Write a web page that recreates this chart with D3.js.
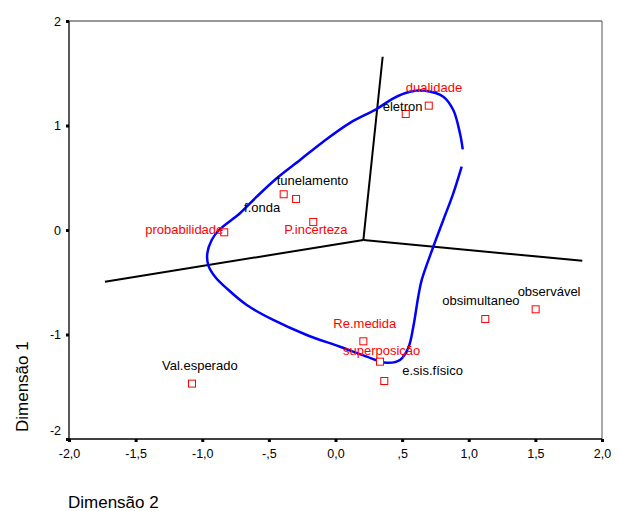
<!DOCTYPE html>
<html><head><meta charset="utf-8">
<script src="https://cdn.jsdelivr.net/npm/d3@7"></script>
<style>
body{margin:0;background:#fff;}
svg{display:block;font-family:"Liberation Sans",Arial,sans-serif;}
</style></head>
<body><svg id="c" width="621" height="511"></svg>
<script>
// ---- data ----
const labels = ["dualidade","eletron","tunelamento","f.onda","P.incerteza","probabilidade","Re.medida","superposição","e.sis.físico","obsimultaneo","observável","Val.esperado"];
const dim2 = [0.70, 0.527, -0.389, -0.296, -0.167, -0.835, 0.209, 0.334, 0.366, 1.124, 1.502, -1.077];
const dim1 = [1.19, 1.11, 0.342, 0.297, 0.077, -0.022, -1.065, -1.26, -1.445, -0.852, -0.759, -1.47];
const labelIsRed = [true,false,false,false,true,true,true,true,false,false,false,false];

// black axis lines (from a common centre)
const hubX = [0.209, 0.354, 0.209, -1.73, 0.209, 1.852];
const hubY = [-0.096, 1.658, -0.096, -0.495, -0.096, -0.294];

// blue curve
const curveX = [0.955,0.934,0.884,0.809,0.672,0.559,0.434,0.309,0.109,-0.092,-0.266,-0.441,-0.591,-0.717,-0.874,-0.929,-0.962,-0.955,-0.904,-0.817,-0.666,-0.467,-0.216,0.034,0.234,0.384,0.484,0.546,0.584,0.621,0.647,0.734,0.809,0.884,0.947];
const curveY = [0.772,0.925,1.148,1.276,1.333,1.323,1.260,1.158,1.025,0.845,0.670,0.495,0.319,0.160,0.0,-0.096,-0.223,-0.335,-0.447,-0.558,-0.718,-0.861,-1.005,-1.117,-1.212,-1.270,-1.244,-1.129,-0.925,-0.638,-0.478,-0.160,0.096,0.351,0.606];

const xTicks = [-2,-1.5,-1,-0.5,0,0.5,1,1.5,2];
const xTickLabels = ["-2,0","-1,5","-1,0","-,5","0,0",",5","1,0","1,5","2,0"];
const yTicks = [-2,-1,0,1,2];
const yTickLabels = ["-2","-1","0","1","2"];
const xTitle = "Dimensão 2";
const yTitle = "Dimensão 1";

// ---- layout (label offsets in px, not data) ----
const labelDx = [-23,-23,-7,-52,-29,-79,-30,-37,18,-43,-18,-30];
const labelDy = [-14,-3,-9,13,12,2,-13,-7,-6,-14,-13,-14];

const svg = d3.select("#c");
const L=69,R=602,T=21,B=439;
const x = d3.scaleLinear().domain([-2,2]).range([L,R]);
const y = d3.scaleLinear().domain([-2,2]).range([B,T]);

// frame
svg.append("line").attr("x1",L).attr("x2",R).attr("y1",T).attr("y2",T).attr("stroke","#333").attr("stroke-width",1);
svg.append("line").attr("x1",R).attr("x2",R).attr("y1",T).attr("y2",B).attr("stroke","#555").attr("stroke-width",1);
svg.append("line").attr("x1",L).attr("x2",L).attr("y1",T).attr("y2",B).attr("stroke","#000").attr("stroke-width",1.3);
svg.append("line").attr("x1",L).attr("x2",R).attr("y1",B).attr("y2",B).attr("stroke","#000").attr("stroke-width",1.3);

// axes
const gx = svg.append("g").attr("transform",`translate(0,${B})`)
  .call(d3.axisBottom(x).tickValues(xTicks).tickFormat((d,i)=>xTickLabels[i]).tickSize(0).tickPadding(10));
gx.select(".domain").remove();
gx.selectAll("text").attr("font-size",12.5).attr("fill","#000").style("font-family","'Liberation Sans',Arial,sans-serif");
gx.selectAll(".tick").append("rect").attr("x",-1.5).attr("y",0).attr("width",3).attr("height",3).attr("fill","#000");

const gy = svg.append("g").attr("transform",`translate(${L},0)`)
  .call(d3.axisLeft(y).tickValues(yTicks).tickFormat((d,i)=>yTickLabels[i]).tickSize(0).tickPadding(8));
gy.select(".domain").remove();
gy.selectAll("text").attr("font-size",12.5).attr("fill","#000").style("font-family","'Liberation Sans',Arial,sans-serif")
  .attr("dy",(d)=> d===-2 ? "-0.4em" : "0.32em");
gy.selectAll(".tick").append("rect").attr("x",-3).attr("y",-1.5).attr("width",3).attr("height",3).attr("fill","#000");

// titles
svg.append("text").attr("x",68).attr("y",508).attr("font-size",17).attr("fill","#000").text(xTitle);
svg.append("text").attr("transform","translate(28,432) rotate(-90)").attr("font-size",17).attr("fill","#000").text(yTitle);

// black hub lines
for(let i=0;i<hubX.length;i+=2){
  svg.append("line").attr("x1",x(hubX[i])).attr("y1",y(hubY[i])).attr("x2",x(hubX[i+1])).attr("y2",y(hubY[i+1]))
    .attr("stroke","#000").attr("stroke-width",2);
}

// blue curve
const cpts = curveX.map((v,i)=>[v,curveY[i]]);
svg.append("path").datum(cpts)
  .attr("d",d3.line().x(d=>x(d[0])).y(d=>y(d[1])).curve(d3.curveCatmullRom.alpha(0.5)))
  .attr("fill","none").attr("stroke","#0000ff").attr("stroke-width",2.5);

// points
const pts = labels.map((l,i)=>({l,x:dim2[i],y:dim1[i],red:labelIsRed[i],dx:labelDx[i],dy:labelDy[i]}));
svg.selectAll("rect.pt").data(pts).enter().append("rect").attr("class","pt")
  .attr("x",d=>x(d.x)-3.5).attr("y",d=>y(d.y)-3.5).attr("width",7).attr("height",7)
  .attr("fill","#fff").attr("stroke","#ff0000").attr("stroke-width",1);
svg.selectAll("text.lb").data(pts).enter().append("text").attr("class","lb")
  .attr("x",d=>x(d.x)+d.dx).attr("y",d=>y(d.y)+d.dy)
  .attr("font-size",13).attr("fill",d=>d.red?"#ff0000":"#000").text(d=>d.l);
</script></body></html>
